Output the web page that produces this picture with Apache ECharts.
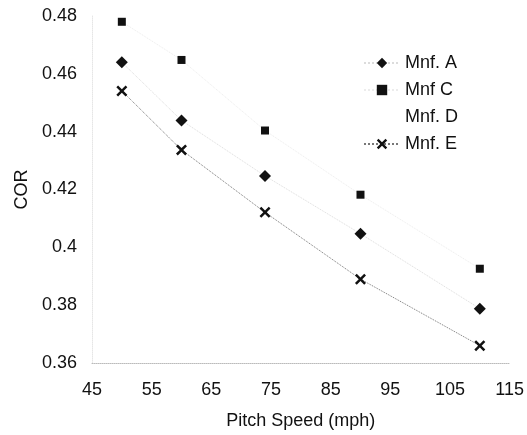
<!DOCTYPE html>
<html>
<head>
<meta charset="utf-8">
<script src="https://cdn.jsdelivr.net/npm/echarts@6/dist/echarts.min.js"></script>
<style>html,body{margin:0;padding:0;background:#fff}#c{width:527px;height:435px}</style>
</head>
<body>
<div id="c"></div>
<script>
var pitchSpeed = [50, 60, 74, 90, 110];
var mnfA = [0.4640, 0.4439, 0.4247, 0.4047, 0.3788];
var mnfC = [0.4780, 0.4648, 0.4404, 0.4182, 0.3926];
var mnfD = [];
var mnfE = [0.4541, 0.4337, 0.4121, 0.3890, 0.3660];
var xTicks = [45, 55, 65, 75, 85, 95, 105, 115];
var yTicks = [0.36, 0.38, 0.40, 0.42, 0.44, 0.46, 0.48];

function pairs(ys) { return ys.map(function (y, i) { return [pitchSpeed[i], y]; }); }

var FONT = 'Liberation Sans';
var crossPath = 'path://M0,1.6 L1.6,0 L5,3.4 L8.4,0 L10,1.6 L6.6,5 L10,8.4 L8.4,10 L5,6.6 L1.6,10 L0,8.4 L3.4,5 Z';

var chart = echarts.init(document.getElementById('c'), null, { renderer: 'canvas' });
chart.setOption({
  animation: false,
  backgroundColor: '#fff',
  textStyle: { fontFamily: FONT },
  grid: { left: 92, right: 15, top: 16, bottom: 68 },
  legend: {
    orient: 'vertical',
    left: 358,
    top: 49,
    itemWidth: 36,
    itemHeight: 13,
    itemGap: 9,
    textStyle: { fontFamily: FONT, fontSize: 18, color: '#111' },
    data: [
      { name: 'Mnf. A' },
      { name: 'Mnf C' },
      { name: 'Mnf. D', icon: 'none' },
      { name: 'Mnf. E' }
    ]
  },
  xAxis: {
    type: 'value',
    min: xTicks[0],
    max: xTicks[xTicks.length - 1],
    interval: 10,
    name: 'Pitch Speed (mph)',
    nameLocation: 'middle',
    nameGap: 49,
    nameTextStyle: { fontFamily: FONT, fontSize: 18, color: '#111' },
    axisLine: { show: true, lineStyle: { color: '#bbb', type: 'dotted', width: 1 } },
    axisTick: { show: false },
    splitLine: { show: false },
    axisLabel: { fontFamily: FONT, fontSize: 18, color: '#111', margin: 18 }
  },
  yAxis: {
    type: 'value',
    min: yTicks[0],
    max: yTicks[yTicks.length - 1],
    interval: 0.02,
    name: 'COR',
    nameLocation: 'middle',
    nameGap: 61,
    nameTextStyle: { fontFamily: FONT, fontSize: 18, color: '#111' },
    axisLine: { show: true, lineStyle: { color: '#e6e6e6', type: 'dotted', width: 1 } },
    axisTick: { show: false },
    splitLine: { show: false },
    axisLabel: { fontFamily: FONT, fontSize: 18, color: '#111', margin: 15 }
  },
  series: [
    {
      name: 'Mnf. A', type: 'line', data: pairs(mnfA),
      symbol: 'diamond', symbolSize: 12,
      itemStyle: { color: '#111' },
      lineStyle: { color: '#dcdcdc', type: 'dotted', width: 1 }
    },
    {
      name: 'Mnf C', type: 'line', data: pairs(mnfC),
      symbol: 'rect', symbolSize: 8,
      itemStyle: { color: '#111' },
      lineStyle: { color: '#ececec', type: 'dotted', width: 1 }
    },
    {
      name: 'Mnf. D', type: 'line', data: mnfD,
      symbol: 'none',
      itemStyle: { color: '#fff' },
      lineStyle: { color: '#fff', width: 0 }
    },
    {
      name: 'Mnf. E', type: 'line', data: pairs(mnfE),
      symbol: crossPath, symbolSize: 11,
      itemStyle: { color: '#111' },
      lineStyle: { color: '#777', type: 'dotted', width: 1 }
    }
  ]
});
</script>
</body>
</html>
